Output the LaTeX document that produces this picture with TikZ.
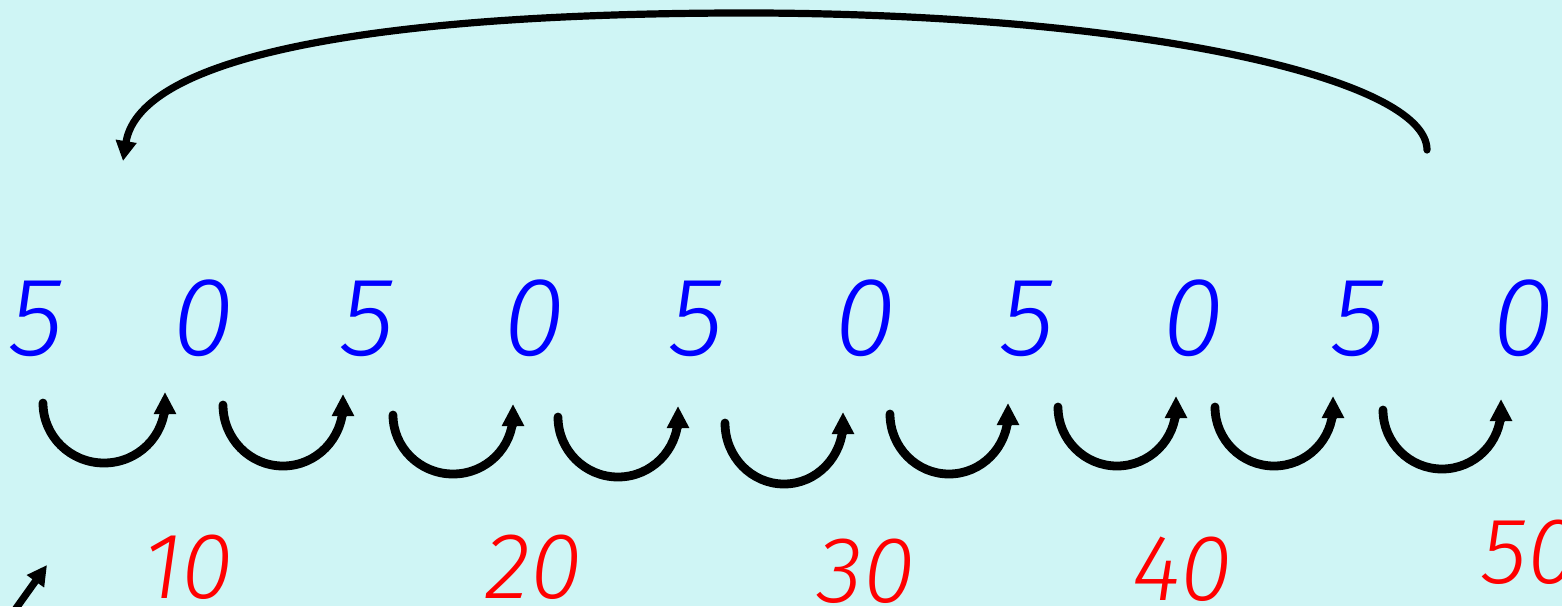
\documentclass[tikz,border=0pt]{standalone}
\usepackage{fontspec}
\setmainfont{Fira Sans}[ItalicFont={Fira Sans Light Italic}]
\usepackage{tikz}
\usetikzlibrary{arrows.meta}
\definecolor{bgcyan}{HTML}{CFF5F5}
\definecolor{digitblue}{HTML}{0000FF}
\definecolor{tensred}{HTML}{FF0000}

\begin{document}
\begin{tikzpicture}[
    x=0.5pt, y=-0.5pt,
    digit/.style={text=digitblue, font=\fontsize{56}{60}\selectfont\itshape,
                  anchor=base, inner sep=0pt},
    tens/.style={text=tensred, font=\fontsize{47}{50}\selectfont\itshape,
                 anchor=base, inner sep=0pt},
    hop/.style={-{Triangle[length=11pt, width=10.5pt]}, line width=4.4pt},
    big/.style={-{Triangle[length=10pt, width=10pt]}, line width=3.6pt},
  ]
  \clip (0,0) rectangle (1562,606);
  \fill[bgcyan] (0,0) rectangle (1562,606);

  % ones digits
  \foreach \x/\d [count=\i] in {37/5, 203/0, 368/5, 534/0, 697/5,
                                865/0, 1028/5, 1193/0, 1359/5, 1523/0}
    \node[digit] (d\i) at (\x,355) {\d};

  % tens
  \node[tens] (t10) at (188,598) {10};
  \node[tens] (t20) at (534,598) {20};
  \node[tens] (t30) at (866,602) {30};
  \node[tens] (t40) at (1182,600) {40};
  \node[tens] (t50) at (1530,583) {50};

  % hops of five
  \foreach \lx/\ly/\rx/\ry [count=\i] in {43/403/61/60, 223/405/60/61,
      393/415/60/59, 558/417/60/60, 725/423/59/61, 890/414/59/60,
      1058/407/59/59, 1215/407/59/59, 1383/410/59/59}
  {
    \coordinate (s\i) at (\lx,\ly);
    \draw[hop, line cap=round] (s\i) arc[start angle=180, end angle=0,
                         x radius=\rx, y radius=\ry] -- ++(0,-11);
  }

  % jump back
  \coordinate (topR) at (1427,150);
  \coordinate (topL) at (123,161);
  \draw[big, line cap=round] (topR) .. controls (1427,80) and (1150,15) .. (760,13)
    .. controls (380,12) and (140,55) .. (topL);

  % corner arrow
  \coordinate (cornerS) at (12,614);
  \coordinate (cornerE) at (47,565);
  \draw[big] (cornerS) -- (cornerE);
\end{tikzpicture}
\end{document}
